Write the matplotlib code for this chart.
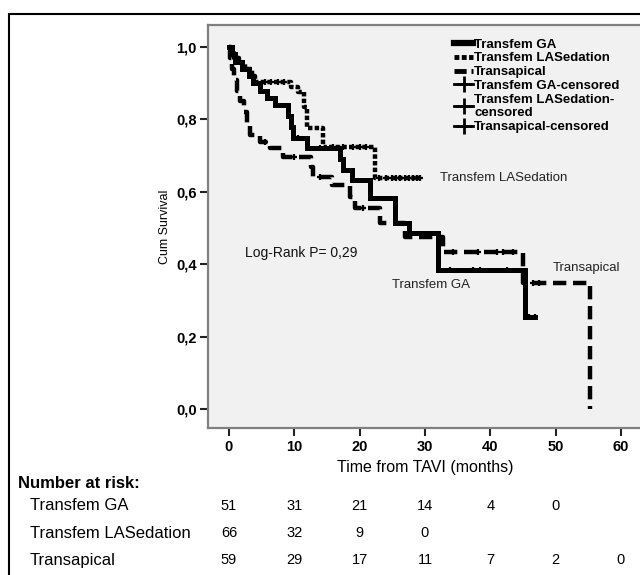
import matplotlib.pyplot as plt
import matplotlib.transforms as mtransforms
from matplotlib.lines import Line2D
from matplotlib.patches import Rectangle

plt.rcParams['font.family'] = ['Liberation Sans', 'DejaVu Sans']

# Kaplan-Meier steps (time in months, survival after the step)
ga_time = [0, 0.5, 1.0, 2.0, 3.0, 3.7, 4.7, 5.8, 7.0, 9.0, 9.5, 9.8, 12.0, 17.0, 17.5, 18.8,
           21.6, 25.4, 27.5, 32.0, 45.3, 46.8]
ga_surv = [1.0, 0.98, 0.96, 0.94, 0.92, 0.90, 0.88, 0.86, 0.84, 0.81, 0.78, 0.75, 0.72, 0.69,
           0.66, 0.633, 0.583, 0.514, 0.486, 0.384, 0.254, 0.254]
ga_cens_t = [1.5, 2.5, 10.5, 14.0, 33.8, 37.4, 38.4, 42.6, 46.0, 46.8]

las_time = [0, 0.3, 0.8, 1.5, 2.5, 3.5, 4.0, 9.5, 10.5, 11.5, 12.0, 14.4, 22.4, 29.2]
las_surv = [1.0, 0.985, 0.97, 0.955, 0.94, 0.92, 0.903, 0.89, 0.876, 0.834, 0.776, 0.724,
            0.638, 0.638]
las_cens_t = [0.6, 1.2, 2.0, 5.5, 6.5, 7.5, 8.5, 16.0, 17.5, 19.0, 20.0, 21.0,
              23.0, 24.0, 25.0, 25.6, 26.2, 27.0, 27.6, 28.2, 28.8, 29.2]

tap_time = [0, 0.2, 0.5, 0.8, 1.2, 1.7, 2.3, 2.8, 3.3, 4.7, 6.3, 8.3, 12.5, 12.8, 15.8, 18.5,
            19.3, 23.1, 27.0, 32.8, 45.0, 55.3]
tap_surv = [1.0, 0.97, 0.94, 0.91, 0.88, 0.85, 0.82, 0.79, 0.757, 0.738, 0.72, 0.696, 0.669,
            0.64, 0.619, 0.586, 0.555, 0.514, 0.475, 0.434, 0.348, 0.0]
tap_cens_t = [5.5, 10.0, 14.0, 20.5, 34.3, 38.1, 41.0, 42.0, 43.5, 46.5, 47.5]

# Number at risk table
risk_times = [0, 10, 20, 30, 40, 50, 60]
risk_ga = ['51', '31', '21', '14', '4', '0', '']
risk_las = ['66', '32', '9', '0', '', '', '']
risk_tap = ['59', '29', '17', '11', '7', '2', '0']


def surv_at(times, survs, t):
    s = survs[0]
    for ti, si in zip(times, survs):
        if ti <= t:
            s = si
    return s


fig = plt.figure(figsize=(6.4, 5.75), dpi=100)
ax = fig.add_axes([0.325, 0.2557, 0.68, 0.7008])
ax.set_facecolor('#f1f1f1')

# step curves
ax.step(ga_time, ga_surv, where='post', color='black', lw=3.6, solid_joinstyle='miter')
ax.step(las_time, las_surv, where='post', color='black', lw=3.2, linestyle=(0, (1.0, 0.5)))
ax.step(tap_time, tap_surv, where='post', color='black', lw=3.2, linestyle=(0, (3, 1.5)))

# censored marks
for times, survs, cens in [(ga_time, ga_surv, ga_cens_t), (las_time, las_surv, las_cens_t),
                           (tap_time, tap_surv, tap_cens_t)]:
    ys = [surv_at(times, survs, c) for c in cens]
    ax.plot(cens, ys, linestyle='none', marker='+', color='black', ms=5, mew=1.6)

ax.set_xlim(-3.2, 63.4)
ax.set_ylim(-0.0525, 1.061)
ax.set_xticks(risk_times)
ax.set_xticklabels([str(t) for t in risk_times], fontsize=10.5, fontweight='bold')
ax.set_yticks([0, 0.2, 0.4, 0.6, 0.8, 1.0])
ax.set_yticklabels(['0,0', '0,2', '0,4', '0,6', '0,8', '1,0'], fontsize=10.5, fontweight='bold')
ax.tick_params(axis='both', direction='out', length=6, width=1.5, color='#222222')
ax.tick_params(axis='x', pad=3)
ax.tick_params(axis='y', pad=2)
for s in ax.spines.values():
    s.set_color('#808080')
    s.set_linewidth(1.6)

ax.set_ylabel('Cum Survival', fontsize=9, labelpad=4)
ax.set_xlabel('Time from TAVI (months)', fontsize=11.5, labelpad=4)

ax.text(32.3, 0.638, 'Transfem LASedation', fontsize=9.5, va='center', color='#222222')
ax.text(2.4, 0.431, 'Log-Rank P= 0,29', fontsize=10, va='center', color='#111111')
ax.text(49.6, 0.39, 'Transapical', fontsize=9.5, va='center', color='#222222')
ax.text(25.0, 0.343, 'Transfem GA', fontsize=9.5, va='center', color='#222222')

handles = [
    Line2D([], [], color='black', lw=4.5),
    Line2D([], [], color='black', lw=3.5, linestyle=(0, (1.0, 0.5))),
    Line2D([], [], color='black', lw=3.5, linestyle=(0, (2.5, 1.0))),
    Line2D([], [], color='black', lw=2, marker='+', ms=12, mew=2),
    Line2D([], [], color='black', lw=2, marker='+', ms=12, mew=2),
    Line2D([], [], color='black', lw=2, marker='+', ms=12, mew=2),
]
labels = ['Transfem GA', 'Transfem LASedation', 'Transapical', 'Transfem GA-censored',
          'Transfem LASedation-\ncensored', 'Transapical-censored']
ax.legend(handles, labels, loc='upper left', bbox_to_anchor=(0.545, 0.99), frameon=False,
          handlelength=1.4, handletextpad=0.1, labelspacing=0.12, borderpad=0.2,
          prop={'size': 9.5, 'weight': 'bold'})

# number at risk table
trans = mtransforms.blended_transform_factory(ax.transData, fig.transFigure)
fig.text(18 / 640, 1 - 483 / 575, 'Number at risk:', fontsize=12, va='center',
         fontweight='bold')
rows = [('Transfem GA', risk_ga, 506), ('Transfem LASedation', risk_las, 533),
        ('Transapical', risk_tap, 560)]
for name, vals, ypx in rows:
    y = 1 - ypx / 575
    fig.text(30 / 640, y, name, fontsize=12, va='center')
    for t, v in zip(risk_times, vals):
        ax.text(t, y, v, transform=trans, ha='center', va='center', fontsize=10.5)

# outer frame
fig.patches.append(Rectangle((9 / 640, -0.05), 1.1, 0.05 + 1 - 14 / 575, transform=fig.transFigure,
                             fill=False, edgecolor='black', lw=1.5))

fig.savefig('out.png', dpi=100)
